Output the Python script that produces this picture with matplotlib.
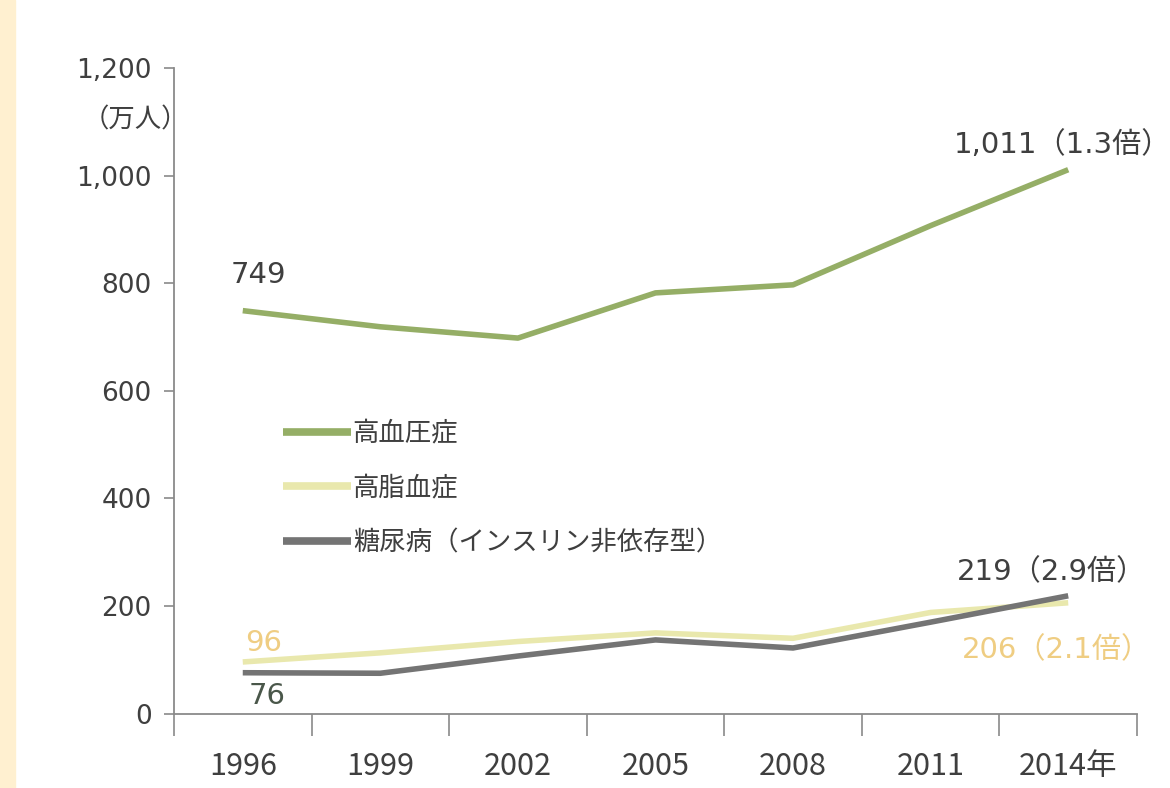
import matplotlib.pyplot as plt
import numpy as np

# 患者数の推移（万人）
years = ['1996', '1999', '2002', '2005', '2008', '2011', '2014年']
koketsuatsu = [749, 719, 698, 782, 797, 907, 1011]
koshikessho = [96, 113, 134, 150, 140, 188, 206]
tonyobyo = [76, 75, 107, 137, 122, 170, 219]
names = ['高血圧症', '高脂血症', '糖尿病（インスリン非依存型）']
yticks = [0, 200, 400, 600, 800, 1000, 1200]

c_green = '#95ae66'
c_yellow = '#e9e8ad'
c_gray = '#747474'
c_text = '#3f3f3f'
c_orange = '#efcd82'

mixed = ['DejaVu Sans', 'Noto Sans CJK JP']
cjk = ['Noto Sans CJK JP', 'DejaVu Sans']

fig = plt.figure(figsize=(11.7, 7.88), dpi=100)
fig.patch.set_facecolor('white')
# 左端のクリーム色の帯
fig.add_artist(plt.Rectangle((0, 0), 15 / 1170, 1, transform=fig.transFigure,
                             color='#fff0d0', zorder=0))

ax = fig.add_axes([0.1487, 0.0944, 0.8231, 0.8193])
x = np.arange(len(years))

ax.plot(x, koketsuatsu, color=c_green, lw=4.0, solid_capstyle='butt', label=names[0])
ax.plot(x, koshikessho, color=c_yellow, lw=4.0, solid_capstyle='butt', label=names[1])
ax.plot(x, tonyobyo, color=c_gray, lw=4.0, solid_capstyle='butt', label=names[2])

ax.set_xlim(-0.5, len(years) - 0.5)
ax.set_ylim(0, 1200)

ax.spines['top'].set_visible(False)
ax.spines['right'].set_visible(False)
for s in ['left', 'bottom']:
    ax.spines[s].set_color('#8a8a8a')
    ax.spines[s].set_linewidth(1.3)

ax.set_yticks(yticks)
ax.set_yticklabels([f'{v:,}' for v in yticks], fontsize=19, color=c_text,
                   family='DejaVu Sans')
ax.tick_params(axis='y', direction='out', length=7, width=1.2, color='#8a8a8a', pad=9)

# 区切りの目盛りは境界に、ラベルは中央に
ax.set_xticks(np.arange(-0.5, len(years)), minor=True)
ax.set_xticks(x)
ax.set_xticklabels(years, fontsize=22, color=c_text, family=cjk)
ax.tick_params(axis='x', which='major', length=0, pad=27)
ax.tick_params(axis='x', which='minor', direction='out', length=16, width=1.2,
               color='#8a8a8a')

ax.text(-0.40, 1103, '（万人）', ha='right', va='center', fontsize=19,
        color=c_text, family=cjk)

# 数値ラベル
ax.text(x[0] - 0.09, koketsuatsu[0] + 66, f'{koketsuatsu[0]}', fontsize=21,
        color=c_text, family=mixed, va='center')
ax.text(x[-1] - 0.83, koketsuatsu[-1] + 46, f'{koketsuatsu[-1]:,}（1.3倍）',
        fontsize=21, color=c_text, family=mixed, va='center')
ax.text(x[-1] - 0.81, tonyobyo[-1] + 43, f'{tonyobyo[-1]}（2.9倍）', fontsize=21,
        color=c_text, family=mixed, va='center')
ax.text(x[-1] - 0.77, koshikessho[-1] - 88, f'{koshikessho[-1]}（2.1倍）',
        fontsize=21, color=c_orange, family=mixed, va='center')
ax.text(x[0] + 0.015, koshikessho[0] + 35, f'{koshikessho[0]}', fontsize=21,
        color=c_orange, family=mixed, va='center')
ax.text(x[0] + 0.04, tonyobyo[0] - 44, f'{tonyobyo[0]}', fontsize=21,
        color='#4a574a', family=mixed, va='center')

leg = ax.legend(loc='upper left', bbox_to_anchor=(0.113, 0.455), frameon=False,
                prop={'family': cjk, 'size': 19}, handlelength=2.6,
                handletextpad=0.05, labelspacing=1.05, borderaxespad=0, borderpad=0)
for h in leg.get_lines():
    h.set_linewidth(5.5)
for t in leg.get_texts():
    t.set_color(c_text)

fig.savefig('out.png', dpi=100)
